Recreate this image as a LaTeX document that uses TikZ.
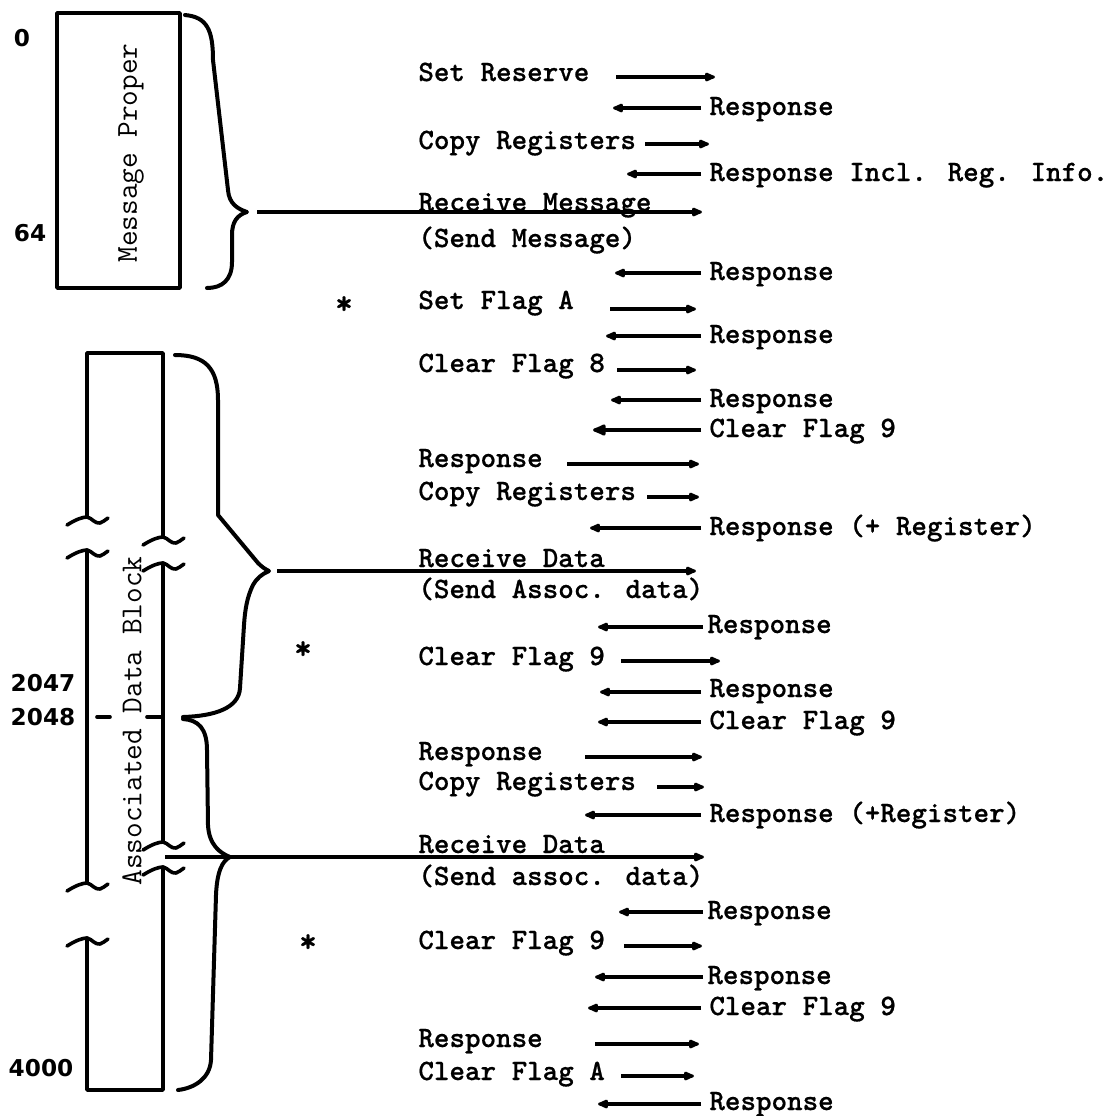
\documentclass[tikz,border=0pt]{standalone}
\usepackage{fontspec}
\usepackage{tikz}
\usetikzlibrary{arrows.meta,positioning}
\newfontfamily\numfont{DejaVu Sans}
\newfontfamily\typewfont[FakeBold=0.6]{lmmonolt10-bold.otf}

\begin{document}
\begin{tikzpicture}[
    x=0.5pt, y=-0.5pt,
    >={Latex[length=7pt,width=5.5pt,round]},
    msgtext/.style={font=\typewfont\fontsize{14.8}{16}\selectfont, anchor=base west, inner sep=2pt},
    startext/.style={font=\typewfont\fontsize{17}{17}\selectfont, anchor=base, inner sep=0pt},
    addr/.style={font=\numfont\bfseries\fontsize{11.6}{13}\selectfont, inner sep=0pt},
    blocklabel/.style={font=\ttfamily\fontsize{15.2}{17}\selectfont, rotate=90, inner sep=0pt},
    boxline/.style={line width=1.8pt, line cap=round, line join=round},
    boxnode/.style={draw, boxline, inner sep=0pt, minimum width=61.5pt, minimum height=137.5pt},
    brace/.style={line width=2pt, line cap=round, line join=round},
    sig/.style={->, line width=1.6pt},
    reply/.style={sig, shorten <=2pt},
    replybig/.style={line width=1.6pt, -{Latex[length=8.5pt,width=7pt,round]}, shorten <=2pt},
    brk/.pic={\draw[boxline] (-20,8) .. controls (-12,3) and (-5,0) .. (0,0) .. controls (5,1) and (8,7) .. (13,6) .. controls (16,5) and (18,3) .. (21,1);}
]
\useasboundingbox (0,0) rectangle (1111,1116);

% memory layout
\node[boxnode] (mpbox) at (118.5,150.5) {};
\node[blocklabel] (mplabel) at (131,153) {Message Proper};
\node[addr] (a0) at (22,38) {0};
\node[addr] (a64) at (30,233) {64};
\node[addr] (a2047) at (43,683) {2047};
\node[addr] (a2048) at (43,717) {2048};
\node[addr] (a4000) at (41,1068) {4000};

\draw[boxline] (87,517) -- (87,353) -- (163,353) -- (163,537);
\draw[boxline] (87,550) -- (87,883);
\draw[boxline] (163,563) -- (163,842);
\draw[boxline] (87,938) -- (87,1090) -- (163,1090) -- (163,867);
\pic at (87,517) {brk};
\pic at (87,550) {brk};
\pic at (87,883) {brk};
\pic at (87,938) {brk};
\pic at (163,537) {brk};
\pic at (163,563) {brk};
\pic at (163,842) {brk};
\pic at (163,867) {brk};
\draw[boxline] (97,717) -- (110,717);
\draw[boxline] (147,717) -- (163,717);
\node[blocklabel] (adlabel) at (132,721) {Associated Data Block};

% braces
\coordinate (mtip) at (247,212);
\coordinate (dtipa) at (269,571);
\coordinate (dtipb) at (230,857);
\draw[brace] (185,15) .. controls (207,17) and (213,30) .. (213,60) -- (228,190)
    .. controls (229,204) and (238,209) .. (mtip)
    .. controls (237,215) and (232,222) .. (232,235) -- (232,262)
    .. controls (232,280) and (222,288) .. (207,288);
\draw[brace] (175,355) .. controls (205,355) and (218,368) .. (218,400) -- (218,515) -- (258,563)
    .. controls (262,567) and (265,569) .. (dtipa)
    .. controls (262,574) and (257,578) .. (253,585)
    .. controls (247,597) and (245,610) .. (244,625) -- (240,688)
    .. controls (239,708) and (215,716) .. (183,717);
\draw[brace] (183,719) .. controls (198,720) and (207,728) .. (207,750) -- (208,825)
    .. controls (209,845) and (220,853) .. (dtipb)
    .. controls (222,861) and (217,872) .. (216,895) -- (211,1060)
    .. controls (210,1078) and (195,1088) .. (178,1090);

\coordinate (mend) at (702,212);
\coordinate (dend) at (696,571);
\coordinate (lgap) at (165,857);
\coordinate (lend) at (704,857);
\draw[sig, shorten <=5pt] (mtip) -- (mend);
\draw[sig, shorten <=4pt] (dtipa) -- (dend);
\draw[sig] (lgap) -- (lend);

% message exchange
\node[msgtext] (s1) at (414,81) {Set Reserve};
\coordinate (s1a) at (616,77); \coordinate (s1b) at (715,77);
\draw[sig] (s1a) -- (s1b);
\node[msgtext] (r2) at (705,115) {Response};
\coordinate (r2h) at (613,108);
\draw[reply] (r2.west |- r2h) -- (r2h);
\node[msgtext] (s3) at (414,149) {Copy Registers};
\coordinate (s3a) at (645,144); \coordinate (s3b) at (709,144);
\draw[sig] (s3a) -- (s3b);
\node[msgtext] (r4) at (705,181) {Response Incl. Reg. Info.};
\coordinate (r4h) at (627,174);
\draw[reply] (r4.west |- r4h) -- (r4h);
\node[msgtext] (s5) at (414,211) {Receive Message};
\node[msgtext] (s6) at (414,247) {(Send Message)};
\node[msgtext] (r7) at (705,280) {Response};
\coordinate (r7h) at (615,273);
\draw[reply] (r7.west |- r7h) -- (r7h);
\node[startext] (st1) at (344,314) {*};
\node[msgtext] (s8) at (414,309) {Set Flag A};
\coordinate (s8a) at (610,309); \coordinate (s8b) at (696,309);
\draw[sig] (s8a) -- (s8b);
\node[msgtext] (r9) at (705,343) {Response};
\coordinate (r9h) at (606,336);
\draw[reply] (r9.west |- r9h) -- (r9h);
\node[msgtext] (s10) at (414,372) {Clear Flag 8};
\coordinate (s10a) at (617,370); \coordinate (s10b) at (696,370);
\draw[sig] (s10a) -- (s10b);
\node[msgtext] (r11) at (705,407) {Response};
\coordinate (r11h) at (611,400);
\draw[reply] (r11.west |- r11h) -- (r11h);
\node[msgtext] (r12) at (705,437) {Clear Flag 9};
\coordinate (r12h) at (593,430);
\draw[replybig] (r12.west |- r12h) -- (r12h);
\node[msgtext] (s13) at (414,467) {Response};
\coordinate (s13a) at (567,464); \coordinate (s13b) at (699,464);
\draw[sig] (s13a) -- (s13b);
\node[msgtext] (s14) at (414,500) {Copy Registers};
\coordinate (s14a) at (647,497); \coordinate (s14b) at (699,497);
\draw[sig] (s14a) -- (s14b);
\node[msgtext] (r15) at (705,535) {Response (+ Register)};
\coordinate (r15h) at (590,528);
\draw[reply] (r15.west |- r15h) -- (r15h);
\node[msgtext] (s16) at (414,567) {Receive Data};
\node[msgtext] (s17) at (414,598) {(Send Assoc. data)};
\node[msgtext] (r18) at (703,633) {Response};
\coordinate (r18h) at (598,627);
\draw[sig] (r18.west |- r18h) -- (r18h);
\node[startext] (st2) at (303,659) {*};
\node[msgtext] (s19) at (414,665) {Clear Flag 9};
\coordinate (s19a) at (621,661); \coordinate (s19b) at (720,661);
\draw[sig] (s19a) -- (s19b);
\node[msgtext] (r20) at (705,697) {Response};
\coordinate (r20h) at (600,692);
\draw[reply] (r20.west |- r20h) -- (r20h);
\node[msgtext] (r21) at (705,729) {Clear Flag 9};
\coordinate (r21h) at (598,722);
\draw[reply] (r21.west |- r21h) -- (r21h);
\node[msgtext] (s22) at (414,760) {Response};
\coordinate (s22a) at (585,757); \coordinate (s22b) at (702,757);
\draw[sig] (s22a) -- (s22b);
\node[msgtext] (s23) at (414,790) {Copy Registers};
\coordinate (s23a) at (657,787); \coordinate (s23b) at (704,787);
\draw[sig] (s23a) -- (s23b);
\node[msgtext] (r24) at (705,822) {Response (+Register)};
\coordinate (r24h) at (585,815);
\draw[reply] (r24.west |- r24h) -- (r24h);
\node[msgtext] (s25) at (414,853) {Receive Data};
\node[msgtext] (s26) at (414,885) {(Send assoc. data)};
\node[msgtext] (r27) at (703,919) {Response};
\coordinate (r27h) at (619,912);
\draw[sig] (r27.west |- r27h) -- (r27h);
\node[startext] (st3) at (308,952) {*};
\node[msgtext] (s28) at (414,949) {Clear Flag 9};
\coordinate (s28a) at (624,946); \coordinate (s28b) at (702,946);
\draw[sig] (s28a) -- (s28b);
\node[msgtext] (r29) at (703,984) {Response};
\coordinate (r29h) at (595,977);
\draw[sig] (r29.west |- r29h) -- (r29h);
\node[msgtext] (r30) at (705,1015) {Clear Flag 9};
\coordinate (r30h) at (588,1008);
\draw[reply] (r30.west |- r30h) -- (r30h);
\node[msgtext] (s31) at (414,1047) {Response};
\coordinate (s31a) at (595,1044); \coordinate (s31b) at (699,1044);
\draw[sig] (s31a) -- (s31b);
\node[msgtext] (s32) at (414,1080) {Clear Flag A};
\coordinate (s32a) at (621,1076); \coordinate (s32b) at (694,1076);
\draw[sig] (s32a) -- (s32b);
\node[msgtext] (r33) at (705,1110) {Response};
\coordinate (r33h) at (598,1104);
\draw[reply] (r33.west |- r33h) -- (r33h);
\end{tikzpicture}
\end{document}
